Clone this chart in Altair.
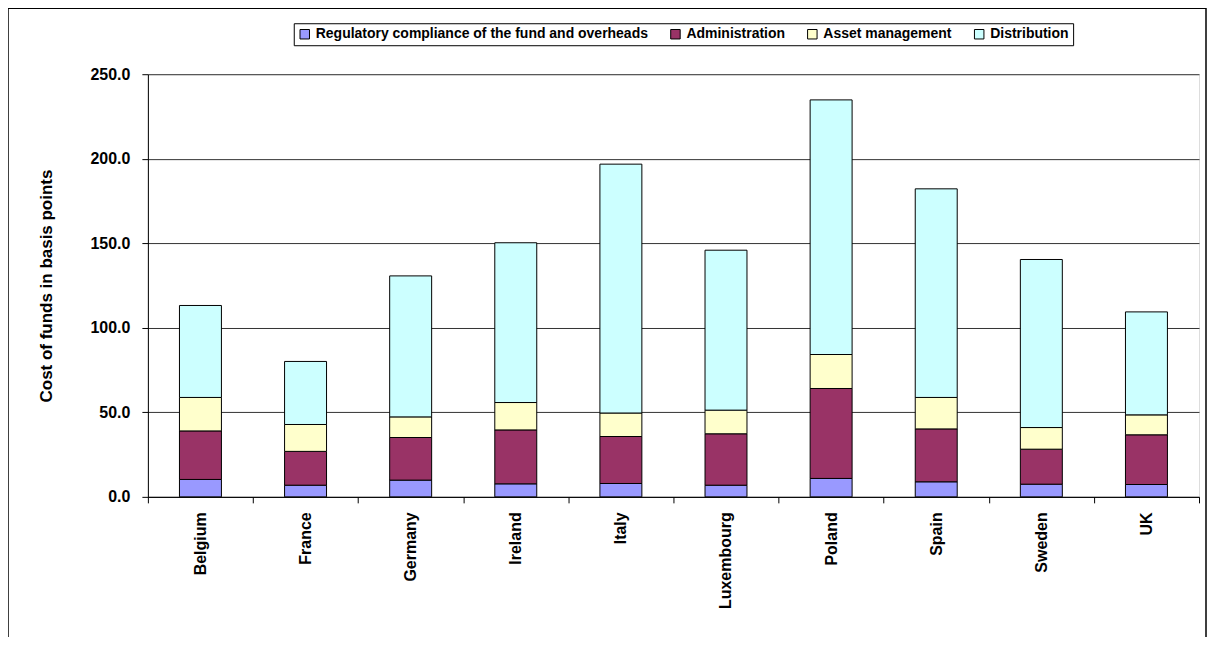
import altair as alt
import pandas as pd

countries = ["Belgium", "France", "Germany", "Ireland", "Italy",
             "Luxembourg", "Poland", "Spain", "Sweden", "UK"]
series = ["Regulatory compliance of the fund and overheads", "Administration",
          "Asset management", "Distribution"]
regulatory = [10.3, 6.9, 9.9, 7.7, 7.9, 6.9, 10.9, 8.9, 7.5, 7.3]
administration = [28.7, 20.0, 25.2, 31.9, 27.8, 30.4, 53.2, 31.3, 20.7, 29.4]
asset_mgmt = [19.8, 15.9, 12.2, 16.2, 13.9, 14.0, 20.1, 18.6, 12.8, 11.8]
distribution = [54.4, 37.3, 83.4, 94.5, 147.2, 94.6, 150.6, 123.4, 99.4, 60.9]
colors = ["#9999FF", "#993366", "#FFFFCC", "#CCFFFF"]
y_ticks = [0, 50, 100, 150, 200, 250]

rows = []
for si, (name, vals) in enumerate(zip(series, [regulatory, administration, asset_mgmt, distribution])):
    for c, v in zip(countries, vals):
        rows.append({"country": c, "series": name, "value": v, "order": si})
df = pd.DataFrame(rows)

FONT = "Liberation Sans"

bars = alt.Chart(df).mark_bar(size=42, stroke="black", strokeWidth=1).encode(
    x=alt.X("country:N", sort=countries, title=None,
            scale=alt.Scale(paddingInner=0, paddingOuter=0),
            axis=alt.Axis(labelAngle=-90, labelFont=FONT, labelFontWeight="bold",
                          labelFontSize=16, labelColor="black", labelPadding=9,
                          tickBand="extent", tickSize=6, tickColor="black",
                          domainColor="black", grid=False, labelBaseline="middle")),
    y=alt.Y("value:Q", stack="zero", title="Cost of funds in basis points",
            scale=alt.Scale(domain=[0, 250], nice=False),
            axis=alt.Axis(values=y_ticks, format=".1f", labelFont=FONT,
                          labelFontWeight="bold", labelFontSize=16, labelColor="black",
                          labelPadding=12, tickSize=6, tickColor="black",
                          domainColor="black", gridColor="#333333", gridWidth=1,
                          titleFont=FONT, titleFontWeight="bold", titleFontSize=17,
                          titleColor="black", titleX=-101, titleBaseline="middle")),
    color=alt.Color("series:N", scale=alt.Scale(domain=series, range=colors),
                    legend=alt.Legend(title=None, orient="none", direction="horizontal",
                                      legendX=146, legendY=-51, symbolType="square",
                                      symbolSize=90, symbolStrokeColor="black",
                                      symbolStrokeWidth=1, labelFont=FONT,
                                      labelFontWeight="bold", labelFontSize=14,
                                      labelColor="black", labelLimit=0,
                                      strokeColor="black", padding=4,
                                      columnPadding=20, labelOffset=4)),
    order=alt.Order("order:Q", sort="ascending"),
)

frame = alt.Chart(alt.Data(values=[{}])).mark_rect(
    fill=None, stroke="black", strokeWidth=1.5
).encode(x=alt.value(-140), x2=alt.value(1059), y=alt.value(-66), y2=alt.value(700))

chart = alt.layer(frame, bars).properties(
    width=1052, height=423,
    autosize=alt.AutoSizeParams(type="none"),
    padding={"left": 140, "top": 66, "right": 8, "bottom": 140},
).configure_view(stroke=None).configure(background="white")

chart.save("out.html", embed_options={"renderer": "svg", "actions": False})
